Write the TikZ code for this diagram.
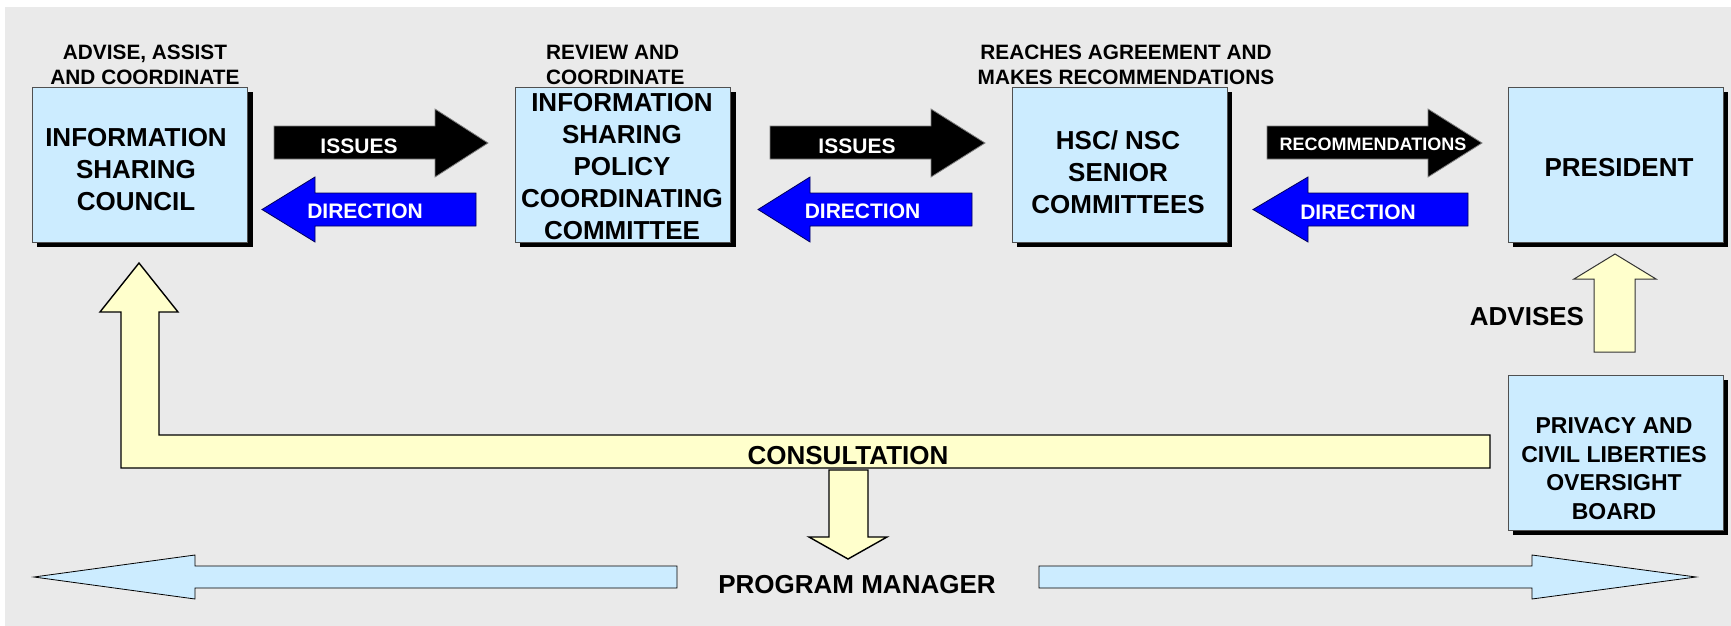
\documentclass[tikz,border=0pt]{standalone}
\usepackage{fontspec}
\setmainfont{Liberation Sans}
\definecolor{bg}{HTML}{EAEAEA}
\definecolor{boxblue}{HTML}{CCECFF}
\definecolor{pale}{HTML}{FFFFCC}
\definecolor{boxedge}{HTML}{505050}
\begin{document}
\begin{tikzpicture}[x=1pt,y=-1pt,
  boxnode/.style={draw=boxedge, line width=1pt, fill=boxblue, minimum width=215pt, minimum height=155pt, inner sep=0pt},
  shadowbox/.style={fill=black},
  bigtxt/.style={font=\bfseries\fontsize{26}{32}\selectfont, align=center, inner sep=0pt},
  smalltxt/.style={font=\bfseries\fontsize{23}{28.5}\selectfont, align=center, inner sep=0pt},
  midtxt/.style={font=\bfseries\fontsize{20.8}{25}\selectfont, align=center, inner sep=0pt},
  arrtxt/.style={font=\bfseries\fontsize{21}{25}\selectfont, text=white, inner sep=0pt},
  blackarr/.style={fill=black, draw=gray, line width=0.8pt},
  bluearr/.style={fill=blue, draw=blue!35!black, line width=0.8pt},
  yelarr/.style={fill=pale, draw=black, line width=1.4pt, line join=miter},
  yelarrthin/.style={fill=pale, draw=black!80, line width=1pt},
  lbarr/.style={fill=boxblue, draw=black, line width=0.8pt}]
\useasboundingbox (0,0) rectangle (1731,626);
\fill[white] (0,0) rectangle (1731,626);
\fill[bg] (5,7) rectangle (1731,626);

% shadows
\fill[shadowbox] (37,91.5) rectangle (252.5,247);
\fill[shadowbox] (520,91.5) rectangle (735.5,247);
\fill[shadowbox] (1016.5,91.5) rectangle (1232,247);
\fill[shadowbox] (1512.5,91.5) rectangle (1728,247);
\fill[shadowbox] (1512.5,379.5) rectangle (1728,535);

% boxes
\node[boxnode] (isc) at (140,164.5) {};
\node[boxnode] (ispcc) at (623,164.5) {};
\node[boxnode] (hsc) at (1119.5,164.5) {};
\node[boxnode] (pres) at (1615.5,164.5) {};
\node[boxnode] (pclob) at (1615.5,452.5) {};

% box texts
\node[bigtxt] (iscT) at (136,170) {INFORMATION\\SHARING\\COUNCIL};
\node[bigtxt] (ispccT) at (622,166.7) {INFORMATION\\SHARING\\POLICY\\COORDINATING\\COMMITTEE};
\node[bigtxt] (hscT) at (1118,172.5) {HSC/ NSC\\SENIOR\\COMMITTEES};
\node[bigtxt] (presT) at (1619,168) {PRESIDENT};
\node[smalltxt] (pclobT) at (1614,468.5) {PRIVACY AND\\CIVIL LIBERTIES\\OVERSIGHT\\BOARD};

% top labels
\node[midtxt] (l1) at (145,64.8) {ADVISE, ASSIST\\AND COORDINATE};
\node[midtxt, align=left, anchor=west] (l2) at (546,65) {REVIEW AND\\COORDINATE};
\node[midtxt] (l3) at (1126,65) {REACHES AGREEMENT AND\\MAKES RECOMMENDATIONS};

% issue / recommendation arrows (right)
\draw[blackarr] (274,126) -- (435,126) -- (435,109) -- (488,143) -- (435,177) -- (435,159) -- (274,159) -- cycle;
\draw[blackarr] (770,126) -- (931,126) -- (931,109) -- (985,143) -- (931,177) -- (931,159) -- (770,159) -- cycle;
\draw[blackarr] (1267,126) -- (1428,126) -- (1428,109) -- (1482,143) -- (1428,177) -- (1428,159) -- (1267,159) -- cycle;
\node[arrtxt] (is1) at (359,146) {ISSUES};
\node[arrtxt] (is2) at (857,146) {ISSUES};
\node[arrtxt, font=\bfseries\fontsize{18}{22}\selectfont] (rec) at (1373,144) {RECOMMENDATIONS};

% direction arrows (left)
\draw[bluearr] (262,209.5) -- (315,177) -- (315,193) -- (476,193) -- (476,226) -- (315,226) -- (315,242) -- cycle;
\draw[bluearr] (758,209.5) -- (810,177) -- (810,193) -- (972,193) -- (972,226) -- (810,226) -- (810,242) -- cycle;
\draw[bluearr] (1253,209.5) -- (1308,177) -- (1308,193) -- (1468,193) -- (1468,226) -- (1308,226) -- (1308,242) -- cycle;
\node[arrtxt] (d1) at (365,211) {DIRECTION};
\node[arrtxt] (d2) at (862.5,211) {DIRECTION};
\node[arrtxt] (d3) at (1358,212) {DIRECTION};

% consultation arrow
\draw[yelarr] (139,263) -- (178,312) -- (159,312) -- (159,435) -- (1490,435) -- (1490,468) -- (121,468) -- (121,312) -- (100,312) -- cycle;
\node[bigtxt] (cons) at (848,456) {CONSULTATION};
\draw[yelarr] (829,470) -- (868,470) -- (868,537) -- (887,537) -- (848,559) -- (809,537) -- (829,537) -- cycle;

% advises arrow
\draw[yelarrthin] (1615,254) -- (1656,279) -- (1635,279) -- (1635,352) -- (1594,352) -- (1594,279) -- (1574,279) -- cycle;
\node[bigtxt] (adv) at (1527,317) {ADVISES};

% program manager arrows
\draw[lbarr] (34,577) -- (195,555) -- (195,566) -- (677,566) -- (677,588) -- (195,588) -- (195,599) -- cycle;
\draw[lbarr] (1696,577) -- (1532,555) -- (1532,566) -- (1039,566) -- (1039,588) -- (1532,588) -- (1532,599) -- cycle;
\node[bigtxt] (pm) at (857,585) {PROGRAM MANAGER};
\end{tikzpicture}
\end{document}
